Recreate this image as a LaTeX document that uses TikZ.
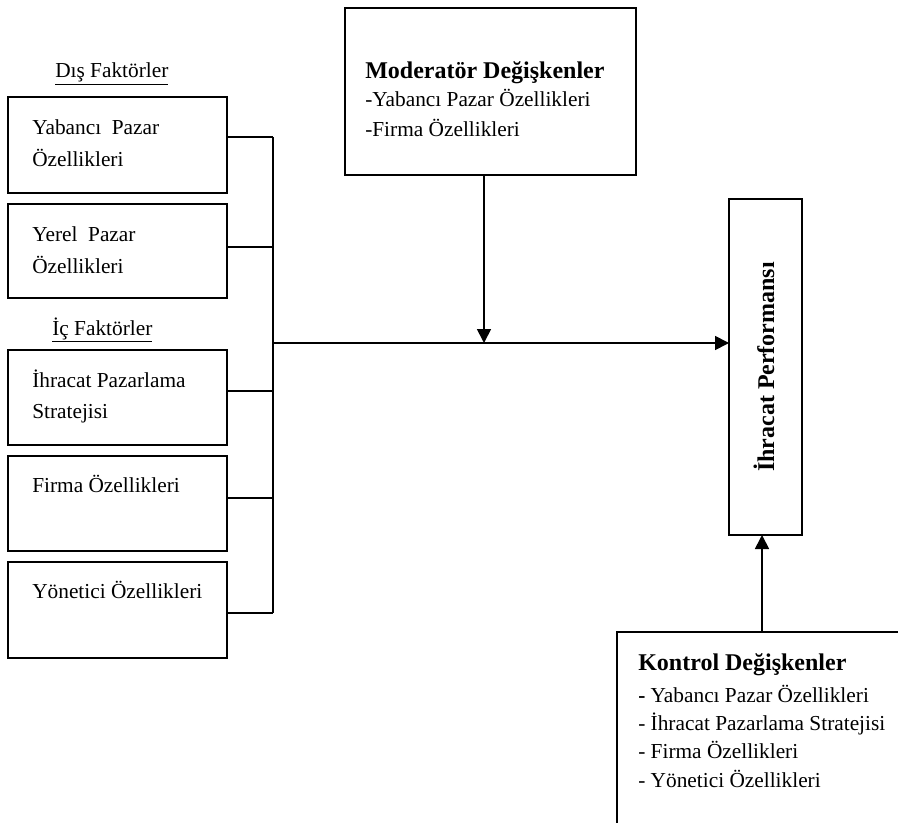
\documentclass[tikz,border=0pt]{standalone}
\usepackage{fontspec}
\setmainfont{Liberation Serif}
\usetikzlibrary{arrows.meta}
\begin{document}
\begin{tikzpicture}[x=0.75pt,y=-0.75pt,
  box/.style={draw,line width=1.3pt,inner sep=0pt},
  txt/.style={inner sep=0pt,anchor=base west,font=\fontsize{16}{20}\selectfont},
  btxt/.style={txt,font=\fontsize{18}{22}\selectfont\bfseries},
  conn/.style={line width=1.3pt},
  arr/.style={line width=1.3pt,-{Triangle[length=10.5pt,width=10.5pt]}}]
\useasboundingbox (0,0) rectangle (898,823);
\clip (0,0) rectangle (898,823);
% headings
\node[txt] (dis) at (55,78) {\underline{Dış Faktörler}};
\node[txt] (ic) at (52,335) {\underline{İç Faktörler}};
% left boxes
\draw[box] (8,97) rectangle (227,193);
\draw[box] (8,204) rectangle (227,298);
\draw[box] (8,350) rectangle (227,445);
\draw[box] (8,456) rectangle (227,551);
\draw[box] (8,562) rectangle (227,658);
\coordinate (b1) at (227,137);
\coordinate (b2) at (227,247);
\coordinate (b3) at (227,391);
\coordinate (b4) at (227,498);
\coordinate (b5) at (227,613);
\node[txt] (t1a) at (32,135) {Yabancı~ Pazar};
\node[txt] (t1b) at (32,167) {Özellikleri};
\node[txt] (t2a) at (32,242) {Yerel~ Pazar};
\node[txt] (t2b) at (32,273) {Özellikleri};
\node[txt] (t3a) at (32,387) {İhracat Pazarlama};
\node[txt] (t3b) at (32,418) {Stratejisi};
\node[txt] (t4) at (32,492) {Firma Özellikleri};
\node[txt] (t5) at (32,598) {Yönetici Özellikleri};
% bus
\coordinate (bt) at (273,137);
\coordinate (bb) at (273,613);
\coordinate (bj) at (273,343);
\draw[conn] (bt) -- (bb);
\foreach \i/\y in {1/137,2/247,3/391,4/498,5/613}
  \draw[conn] (b\i) -- (273,\y);
% moderator box
\draw[box] (345,8) rectangle (636,175);
\coordinate (modb) at (484,175);
\node[btxt] (moda) at (365,79) {Moderatör Değişkenler};
\node[txt] (modb1) at (365,107) {-Yabancı Pazar Özellikleri};
\node[txt] (modc) at (365,137) {-Firma Özellikleri};
\coordinate (modj) at (484,343);
% performance box
\draw[box] (729,199) rectangle (802,535);
\coordinate (pl) at (729,343);
\coordinate (pb) at (762,535);
\node[inner sep=0pt,rotate=90,font=\fontsize{18}{22}\selectfont\bfseries] (perf) at (764,367) {İhracat Performansı};
% control box
\draw[box] (617,632) rectangle (920,850);
\coordinate (ct) at (762,632);
\node[btxt] (kona) at (638,670) {Kontrol Değişkenler};
\node[txt] (konb) at (638,702) {\textbf{-} Yabancı Pazar Özellikleri};
\node[txt] (konc) at (638,730) {- İhracat Pazarlama Stratejisi};
\node[txt] (kond) at (638,758) {- Firma Özellikleri};
\node[txt] (kone) at (638,787) {- Yönetici Özellikleri};
% connectors
\draw[arr] (bj) -- (pl);
\draw[arr] (modb) -- (modj);
\draw[arr] (ct) -- (pb);
\end{tikzpicture}
\end{document}
